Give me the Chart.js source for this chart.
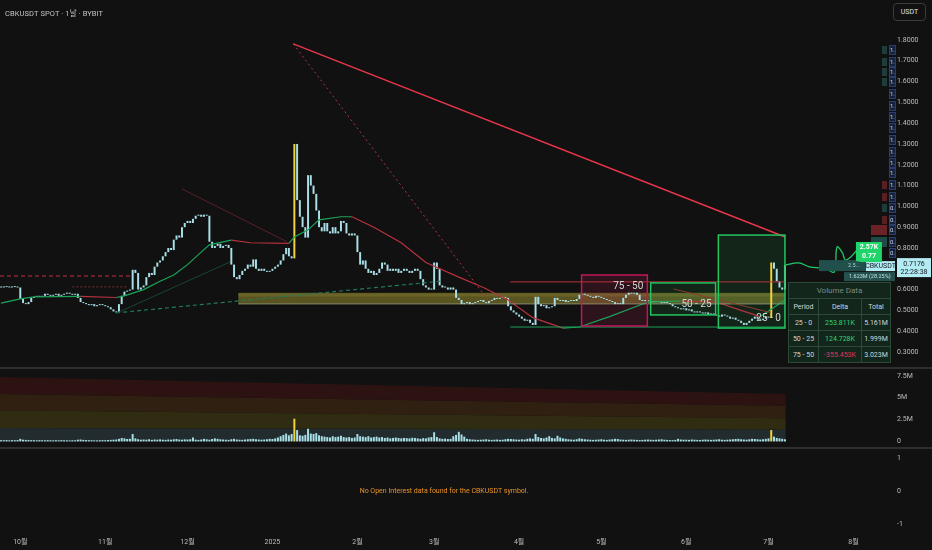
<!DOCTYPE html>
<html>
<head>
<meta charset="utf-8">
<script src="https://cdn.jsdelivr.net/npm/chart.js@4.4.0/dist/chart.umd.min.js"></script>
<style>
  html, body { margin: 0; background: #111111; }
  #wrap { position: relative; width: 932px; height: 550px; overflow: hidden; }
  canvas { display: block; }
  .title { position: absolute; left: 5px; top: 7px; font: 7.5px Roboto, "Noto Sans CJK KR", sans-serif; color: #c4c4c4; letter-spacing: 0.1px; }
  .unit { position: absolute; left: 893px; top: 3px; width: 31px; height: 16px; border: 1px solid #3c3c3c; border-radius: 4px;
          font: 7px Roboto, sans-serif; color: #e0e0e0; text-align: center; line-height: 16px; background: #111; }
  #vd { position: absolute; left: 788px; top: 282px; width: 103px; height: 80px; border-collapse: collapse;
        border: 1.5px solid #22c55e; background: #13261b; font: 7px Roboto, sans-serif; color: #d4d4d4; }
  #vd td { border: 1px solid #2d4a38; text-align: center; padding: 0; height: 15px; }
  #vd td.head { color: #7b8a80; font-size: 8px; }
  #vd .g { color: #2ed573; }
  #vd .r { color: #e0355a; }
</style>
</head>
<body>
<div id="wrap">
  <canvas id="chart" width="932" height="550"></canvas>
  <div class="title">CBKUSDT SPOT · 1날 · BYBIT</div>
  <div class="unit">USDT</div>
  <table id="vd">
    <tr><td class="head" colspan="3">Volume Data</td></tr>
    <tr><td style="width:29px">Period</td><td style="width:42px">Delta</td><td>Total</td></tr>
    <tr><td>25 - 0</td><td class="g">253.811K</td><td>5.161M</td></tr>
    <tr><td>50 - 25</td><td class="g">124.728K</td><td>1.999M</td></tr>
    <tr><td>75 - 50</td><td class="r">-355.453K</td><td>3.023M</td></tr>
  </table>
</div>
<script>
// daily closes from 2024-09-24 (day 0) to 2025-07-08 (day 286)
const firstOpen = 0.612;
const closes = [
  0.61,0.615,0.612,0.61,0.615,0.612,0.61,
  0.555,
  0.535,0.53,0.54,
  0.56,0.565,0.57,0.565,0.57,
  0.58,0.575,0.57,0.575,0.58,0.57,0.575,0.58,0.585,0.58,0.575,0.58,
  0.56,0.54,0.535,0.53,
  0.525,0.53,0.52,0.525,0.53,0.525,0.52,0.515,0.505,0.495,0.49,
  0.53,0.57,0.59,0.595,0.6,
  0.695,0.68,
  0.6,0.61,0.62,
  0.66,0.68,0.67,
  0.71,0.73,0.74,
  0.76,0.78,0.8,0.79,
  0.84,0.86,0.85,
  0.9,0.92,0.93,0.92,
  0.94,0.955,0.96,0.95,0.96,0.955,
  0.83,0.8,
  0.81,0.82,0.8,0.81,0.815,0.8,
  0.72,0.66,0.65,0.67,
  0.69,0.7,0.72,0.71,0.745,
  0.7,
  0.69,0.7,0.69,0.685,0.69,0.7,0.71,
  0.72,0.74,0.77,0.8,0.76,0.75,
  1.3,
  1.03,0.95,0.9,0.85,
  1.15,1.1,
  1.06,0.98,
  0.9,0.88,0.92,
  0.88,0.87,0.9,0.87,0.88,
  0.93,0.92,
  0.87,0.86,0.87,0.86,
  0.78,0.72,0.74,
  0.7,0.68,0.69,0.67,0.68,0.7,
  0.73,0.72,
  0.69,0.7,0.69,0.7,0.68,0.69,0.7,0.69,0.68,0.69,0.7,0.69,
  0.65,0.62,0.61,0.6,0.6,
  0.73,0.7,
  0.62,0.61,0.61,0.6,0.61,0.6,
  0.56,0.55,
  0.53,0.535,0.54,0.53,0.535,0.54,0.545,0.55,0.54,0.535,0.545,0.55,0.56,0.555,0.56,0.565,0.56,
  0.52,0.5,0.49,0.48,0.47,
  0.46,0.45,0.455,0.44,0.43,
  0.565,
  0.53,0.52,0.525,0.51,0.515,0.52,
  0.56,0.55,
  0.545,0.55,0.54,0.545,0.55,0.545,0.555,
  0.575,0.58,0.575,
  0.57,0.565,0.56,0.57,0.565,0.56,0.555,0.55,0.545,0.54,
  0.53,0.535,0.53,
  0.56,0.575,0.585,0.58,0.585,0.575,
  0.55,0.545,0.55,0.545,0.54,
  0.545,0.54,0.545,0.535,0.54,0.535,0.53,
  0.52,0.515,0.51,0.505,0.51,0.5,0.505,0.495,0.49,0.495,0.49,0.485,0.49,0.48,0.485,
  0.48,0.475,0.47,0.48,0.475,0.47,0.46,0.465,0.455,0.45,
  0.44,0.43,0.44,
  0.45,0.46,0.47,0.46,0.455,0.46,0.47,0.465,
  0.73,
  0.7,0.64,
  0.61,0.6,
  0.7176
];

// daily volume, millions
const volumes = [
  0.15,0.14,0.16,0.13,0.15,0.14,0.16,0.3,0.2,0.18,0.16,0.15,0.14,0.13,0.15,0.14,0.13,0.15,0.14,0.12,0.14,0.13,0.15,0.14,
  0.13,0.12,0.14,0.13,0.2,0.22,0.18,0.16,0.15,0.14,0.13,0.12,0.14,0.15,0.14,0.16,0.18,0.2,0.22,0.3,0.4,0.35,0.28,0.3,
  0.85,
  0.35,0.25,0.2,0.22,
  0.2,0.25,0.18,0.22,0.2,0.24,0.2,0.18,0.22,0.2,0.25,0.28,0.22,0.2,0.24,0.22,0.25,
  0.45,
  0.2,0.18,0.22,0.3,0.25,0.2,0.28,0.35,0.3,0.25,0.22,0.2,0.18,0.25,0.3,0.22,0.2,0.18,0.22,0.25,0.28,0.3,0.25,0.22,0.2,0.22,0.25,0.3,0.28,0.35,
  0.45,0.6,0.75,0.9,0.7,0.85,
  2.6,
  1.3,0.7,0.65,0.75,
  1.45,
  0.9,0.85,0.95,0.7,0.6,
  0.55,0.5,0.45,0.6,0.5,0.55,0.65,0.5,0.45,0.5,0.4,0.45,
  0.85,
  0.6,0.55,0.5,0.6,0.45,0.5,0.55,
  0.45,0.5,0.4,0.45,0.35,0.4,0.45,0.4,0.35,0.4,0.38,0.35,0.42,0.4,0.35,0.3,0.38,0.35,0.45,0.5,
  1.05,
  0.5,0.35,0.3,0.32,0.28,0.3,
  0.6,0.75,1.1,0.8,0.55,
  0.3,0.25,0.22,0.2,0.18,0.2,0.22,0.25,0.2,0.18,0.2,0.22,0.18,0.2,0.25,0.3,0.28,0.25,0.22,0.2,0.25,0.22,0.3,0.35,0.3,
  0.85,
  0.5,0.4,0.35,0.45,0.6,0.4,0.35,0.65,0.45,0.35,
  0.3,0.25,0.22,0.2,0.25,0.35,0.3,0.25,0.22,0.2,0.18,0.2,0.22,0.25,0.2,0.18,0.22,0.25,0.3,0.28,0.22,0.2,
  0.18,0.2,0.22,0.2,0.18,0.16,0.18,0.2,0.22,0.2,0.18,0.2,0.22,0.25,0.2,0.18,0.16,0.15,0.18,0.3,0.22,0.2,
  0.2,0.18,0.22,0.2,0.18,0.16,0.2,0.22,0.2,0.18,0.2,0.22,0.25,0.2,0.18,0.2,0.22,0.25,0.28,0.3,
  0.25,0.22,0.2,0.25,0.3,0.28,0.25,0.22,0.25,0.3,0.35,
  1.3,
  0.55,0.4,0.35,0.3,0.25
];
const highVolDays = [107, 281];

// month ticks (day index) and labels
const monthDays = [7, 38, 68, 99, 130, 158, 189, 219, 250, 280, 311];
const monthLabels = ['10월', '11월', '12월', '2025', '2월', '3월', '4월', '5월', '6월', '7월', '8월'];
const priceTicks = [0.3, 0.4, 0.5, 0.6, 0.7, 0.8, 0.9, 1.0, 1.1, 1.2, 1.3, 1.4, 1.5, 1.6, 1.7, 1.8];
const volTicks = [0, 2.5, 5, 7.5];
const oiTicks = [-1, 0, 1];

// moving average
const maDays = [0, 7, 12, 29, 42, 45, 52, 58, 63, 68, 73, 76, 84, 91, 105, 107, 112, 116, 124, 128, 136, 146, 155, 167, 176, 185, 194, 205, 211, 222, 236, 248, 261, 270, 277, 286];
const maValues = [0.535, 0.555, 0.565, 0.567, 0.562, 0.57, 0.6, 0.64, 0.67, 0.72, 0.78, 0.815, 0.838, 0.825, 0.822, 0.853, 0.887, 0.935, 0.95, 0.95, 0.9, 0.825, 0.73, 0.66, 0.61, 0.55, 0.465, 0.415, 0.42, 0.47, 0.54, 0.545, 0.54, 0.5, 0.47, 0.55];

// forward line after last bar
const projDays = [286, 291, 295, 299, 301, 304, 305, 307, 308, 310, 312, 313];
const projValues = [0.718, 0.728, 0.709, 0.704, 0.699, 0.685, 0.805, 0.776, 0.742, 0.757, 0.786, 0.8];

// volume threshold zones (left / right edge values, millions)
const zoneDays = [-0.4, 286.3];
const zoneTop = [7.36, 5.43];
const zoneHigh = [5.43, 4.07];
const zoneMid = [3.57, 2.64];
const zoneLow = [1.55, 1.36];
const zoneBase = [0, 0];

// drawn lines: [day, price] pairs
const resistLine = [[106.6, 1.781], [286.1, 0.853]];
const dottedFall = [[106.6, 1.781], [178.5, 0.536]];
const oldFall = [[66, 1.084], [104.4, 0.829]];
const riseFaint = [[42.3, 0.488], [83.6, 0.733]];
const riseDashed = [[42, 0.488], [160.2, 0.64]];
const oldHigh = [[-0.4, 0.665], [48, 0.665]];
const oldMid = [[26, 0.613], [46, 0.613]];
const rangeTop = [[185.8, 0.637], [286.1, 0.637]];
const rangeBottom = [[185.8, 0.42], [286.1, 0.42]];
const lateFall = [[245.3, 0.603], [280.7, 0.49]];
const bandMid = [[86.5, 0.531], [286.3, 0.531]];

// support band
const bandDays = [86.5, 286.3];
const bandPrices = [0.528, 0.586];

// volume delta boxes
const boxLabels = ['75 - 50', '50 - 25', '25 - 0'];
const boxStart = [211.8, 237, 261.7];
const boxEnd = [235.8, 260.7, 286];
const boxHigh = [0.67, 0.632, 0.862];
const boxLow = [0.425, 0.478, 0.415];
const boxLabelPrice = [0.617, 0.526, 0.459];

// right edge volume profile markers
const vpLevels = [1.752, 1.694, 1.646, 1.598, 1.54, 1.483, 1.43, 1.377, 1.319, 1.262, 1.209, 1.16, 1.103, 1.045, 0.992, 0.935, 0.887, 0.829, 0.776];
const vpKind = ['t', 't', 't', 't', 'n', 'n', 'n', 'n', 'n', 'n', 'n', 'n', 'm', 'm', 't', 'm', 'M', 'T', 'n'];

const lastClose = closes[closes.length - 1];
const FONT = 'Roboto, "Noto Sans CJK KR", sans-serif';

const toXY = pts => pts.map(p => ({x: p[0], y: p[1]}));
const seg = (pts, color, extra) => Object.assign({
  type: 'line', data: toXY(pts), yAxisID: 'y', borderColor: color, borderWidth: 1,
  pointRadius: 0, fill: false, order: 3
}, extra || {});
const zone = (vals, color) => ({
  type: 'line', yAxisID: 'yVol', data: zoneDays.map((d, i) => ({x: d, y: vals[i]})),
  borderWidth: 0, pointRadius: 0, fill: color ? '+1' : false, backgroundColor: color, order: 20
});

const candles = closes.map((c, i) => ({x: i, y: [i ? closes[i - 1] : firstOpen, c]}));
const barColor = ctx => highVolDays.includes(ctx.dataIndex) ? '#f3d33c' : '#a9dfe6';

const overlay = {
  id: 'overlay',
  beforeDatasetsDraw(chart) {
    const {ctx, scales: {x, y}} = chart;
    ctx.save();
    const bx0 = x.getPixelForValue(bandDays[0]), bx1 = x.getPixelForValue(bandDays[1]);
    const by0 = y.getPixelForValue(bandPrices[1]), by1 = y.getPixelForValue(bandPrices[0]);
    ctx.fillStyle = '#5a5421';
    ctx.fillRect(bx0, by0, bx1 - bx0, by1 - by0);
    ctx.fillStyle = '#6b6428';
    ctx.fillRect(bx0, by0 + 1, bx1 - bx0, 3);
    ctx.strokeStyle = '#0c0c0c';
    ctx.lineWidth = 1;
    ctx.strokeRect(bx0 - 0.5, by0 - 0.5, bx1 - bx0 + 1, by1 - by0 + 1);
    boxLabels.forEach((lab, i) => {
      const x0 = x.getPixelForValue(boxStart[i]), x1 = x.getPixelForValue(boxEnd[i]);
      const y0 = y.getPixelForValue(boxHigh[i]), y1 = y.getPixelForValue(boxLow[i]);
      ctx.fillStyle = i === 0 ? 'rgba(190,30,90,0.16)' : 'rgba(40,190,90,0.12)';
      ctx.fillRect(x0, y0, x1 - x0, y1 - y0);
    });
    ctx.restore();
  },
  afterDatasetsDraw(chart) {
    const {ctx, chartArea, scales: {x, y, yOI}} = chart;
    ctx.save();
    // box borders and labels
    boxLabels.forEach((lab, i) => {
      const x0 = x.getPixelForValue(boxStart[i]), x1 = x.getPixelForValue(boxEnd[i]);
      const y0 = y.getPixelForValue(boxHigh[i]), y1 = y.getPixelForValue(boxLow[i]);
      ctx.strokeStyle = i === 0 ? '#c2185b' : '#22c55e';
      ctx.lineWidth = 1.5;
      ctx.strokeRect(x0, y0, x1 - x0, y1 - y0);
      ctx.fillStyle = '#d6d6d6';
      ctx.font = '10px ' + FONT;
      ctx.textAlign = 'right';
      ctx.textBaseline = 'middle';
      ctx.fillText(lab, x1 - 4, y.getPixelForValue(boxLabelPrice[i]));
    });
    // volume profile markers at right edge
    const r = chartArea.right;
    ctx.font = '6px ' + FONT;
    ctx.textBaseline = 'middle';
    vpLevels.forEach((lv, i) => {
      const py = Math.round(y.getPixelForValue(lv));
      const k = vpKind[i];
      if (k === 't' || k === 'm') {
        ctx.fillStyle = k === 't' ? '#1d3d3b' : '#5a1f22';
        ctx.fillRect(r - 6, py - 4, 5, 8);
      } else if (k === 'M' || k === 'T') {
        ctx.fillStyle = k === 'M' ? '#6a2226' : '#1f4a47';
        ctx.fillRect(r - 17, py - 5, 16, 10);
      }
      ctx.fillStyle = '#16223d';
      ctx.fillRect(r + 1, py - 5, 7, 10);
      ctx.strokeStyle = '#2a3f70';
      ctx.lineWidth = 1;
      ctx.strokeRect(r + 1.5, py - 4.5, 6, 9);
      ctx.fillStyle = '#c8d2e8';
      ctx.textAlign = 'left';
      ctx.fillText(lv >= 1 ? '1.' : '0.', r + 2, py);
    });
    // current price badges
    const cy = y.getPixelForValue(lastClose);
    ctx.fillStyle = '#21504c';
    ctx.fillRect(r - 69, cy - 5, 48, 11);
    ctx.fillStyle = '#9fd3cf';
    ctx.font = '5.5px ' + FONT;
    ctx.textAlign = 'left';
    ctx.fillText('2.5...', r - 40, cy + 0.5);
    ctx.fillStyle = '#24514e';
    ctx.fillRect(r - 44, cy + 7, 51, 9);
    ctx.fillStyle = '#bfe3df';
    ctx.fillText('1.623M (28.25%)', r - 39, cy + 11.5);
    ctx.fillStyle = '#b2ebf2';
    ctx.fillRect(r - 22, cy - 4, 29, 10);
    ctx.fillRect(r + 9, cy - 7, 34, 19);
    ctx.fillStyle = '#131722';
    ctx.font = '7px ' + FONT;
    ctx.textAlign = 'center';
    ctx.fillText('CBKUSDT', r - 7.5, cy + 1);
    ctx.fillText(lastClose.toFixed(4), r + 26, cy - 1);
    ctx.fillText('22:28:38', r + 26, cy + 7);
    // forward line label
    const ex = x.getPixelForValue(projDays[projDays.length - 1]);
    const ey = y.getPixelForValue(projValues[projValues.length - 1]);
    ctx.fillStyle = '#1fd56a';
    ctx.beginPath();
    ctx.moveTo(ex - 3, ey + 13);
    ctx.lineTo(ex - 3, ey - 6);
    ctx.lineTo(ex + 23, ey - 6);
    ctx.lineTo(ex + 23, ey + 14);
    ctx.lineTo(ex + 2, ey + 14);
    ctx.closePath();
    ctx.fill();
    ctx.fillStyle = '#ffffff';
    ctx.font = 'bold 7px ' + FONT;
    ctx.fillText('2.57K', ex + 10, ey - 1);
    ctx.fillText('0.77', ex + 10, ey + 8);
    // open interest message
    ctx.fillStyle = '#e8932a';
    ctx.font = '7px ' + FONT;
    ctx.fillText('No Open Interest data found for the CBKUSDT symbol.', (chartArea.left + chartArea.right) / 2, yOI.getPixelForValue(0));
    ctx.restore();
  },
  afterDraw(chart) {
    const {ctx, scales: {yVol, yOI}} = chart;
    ctx.save();
    ctx.strokeStyle = '#2e2e2e';
    ctx.lineWidth = 2;
    [yVol.top, yOI.top].forEach(t => {
      ctx.beginPath();
      ctx.moveTo(0, t);
      ctx.lineTo(chart.width, t);
      ctx.stroke();
    });
    ctx.restore();
  }
};

const noPad = s => { s.paddingTop = 0; s.paddingBottom = 0; s.paddingLeft = 0; s.paddingRight = 0; };
const yAxis = (weight, min, max, tickVals, fmt) => ({
  type: 'linear', position: 'right', stack: 'panes', stackWeight: weight, min: min, max: max,
  grid: {display: false, drawTicks: false}, border: {display: false},
  afterBuildTicks: s => { s.ticks = tickVals.map(v => ({value: v})); },
  afterFit: s => { s.width = 44; noPad(s); },
  ticks: {color: '#bdbdbd', font: {family: FONT, size: 7}, padding: 9, callback: fmt}
});

new Chart(document.getElementById('chart'), {
  type: 'bar',
  data: {
    datasets: [
      {type: 'bar', data: candles, yAxisID: 'y', backgroundColor: barColor, grouped: false,
       barPercentage: 0.72, categoryPercentage: 1, minBarLength: 1, order: 5},
      {type: 'bar', data: volumes.map((v, i) => ({x: i, y: v})), yAxisID: 'yVol', backgroundColor: barColor,
       grouped: false, barPercentage: 0.72, categoryPercentage: 1, order: 5},
      zone(zoneTop, '#2d1212'),
      zone(zoneHigh, '#302012'),
      zone(zoneMid, '#2f2c11'),
      zone(zoneLow, '#222b2e'),
      zone(zoneBase, null),
      {type: 'line', yAxisID: 'y', data: maDays.map((d, i) => ({x: d, y: maValues[i]})), borderWidth: 1.2,
       pointRadius: 0, order: 4, borderColor: '#1ea35a',
       segment: {borderColor: c => c.p1.parsed.y >= c.p0.parsed.y ? '#1ea35a' : '#b8323f'}},
      {type: 'line', yAxisID: 'y', data: projDays.map((d, i) => ({x: d, y: projValues[i]})), borderWidth: 1.3,
       pointRadius: 0, order: 3, borderColor: '#20c866', tension: 0.35},
      seg(resistLine, '#e8364a', {borderWidth: 1.5}),
      seg(dottedFall, '#b8324a', {borderDash: [2, 3]}),
      seg(oldFall, '#5a2028'),
      seg(riseFaint, '#1b4534'),
      seg(riseDashed, '#1f7a5e', {borderDash: [4, 3], borderWidth: 1.2}),
      seg(oldHigh, '#c2303a', {borderDash: [4, 3]}),
      seg(oldMid, '#5a2228', {borderDash: [2, 2], borderWidth: 1.5}),
      seg(rangeTop, '#b8323c'),
      seg(rangeBottom, '#1e9e5a'),
      seg(lateFall, '#8b3b2c'),
      seg(bandMid, 'rgba(175,200,200,0.45)')
    ]
  },
  options: {
    responsive: false,
    animation: false,
    events: [],
    layout: {padding: 0},
    plugins: {legend: {display: false}, tooltip: {enabled: false}},
    scales: {
      x: {
        type: 'linear', min: -0.4, max: 323.6, position: 'bottom', offset: false,
        grid: {display: false, drawTicks: false, offset: false}, border: {display: false},
        afterBuildTicks: s => { s.ticks = monthDays.map(v => ({value: v})); },
        afterFit: s => { s.height = 18; noPad(s); },
        ticks: {color: '#bdbdbd', font: {family: FONT, size: 7}, padding: 6, autoSkip: false, maxRotation: 0,
                callback: (v, i) => monthLabels[i]}
      },
      y: yAxis(368, 0.223, 1.992, priceTicks, v => v.toFixed(4)),
      yVol: yAxis(80, -0.75, 8.4, volTicks, v => v === 0 ? '0' : v + 'M'),
      yOI: yAxis(84, -1.25, 1.3, oiTicks, v => String(v))
    }
  },
  plugins: [overlay]
});
</script>
</body>
</html>
